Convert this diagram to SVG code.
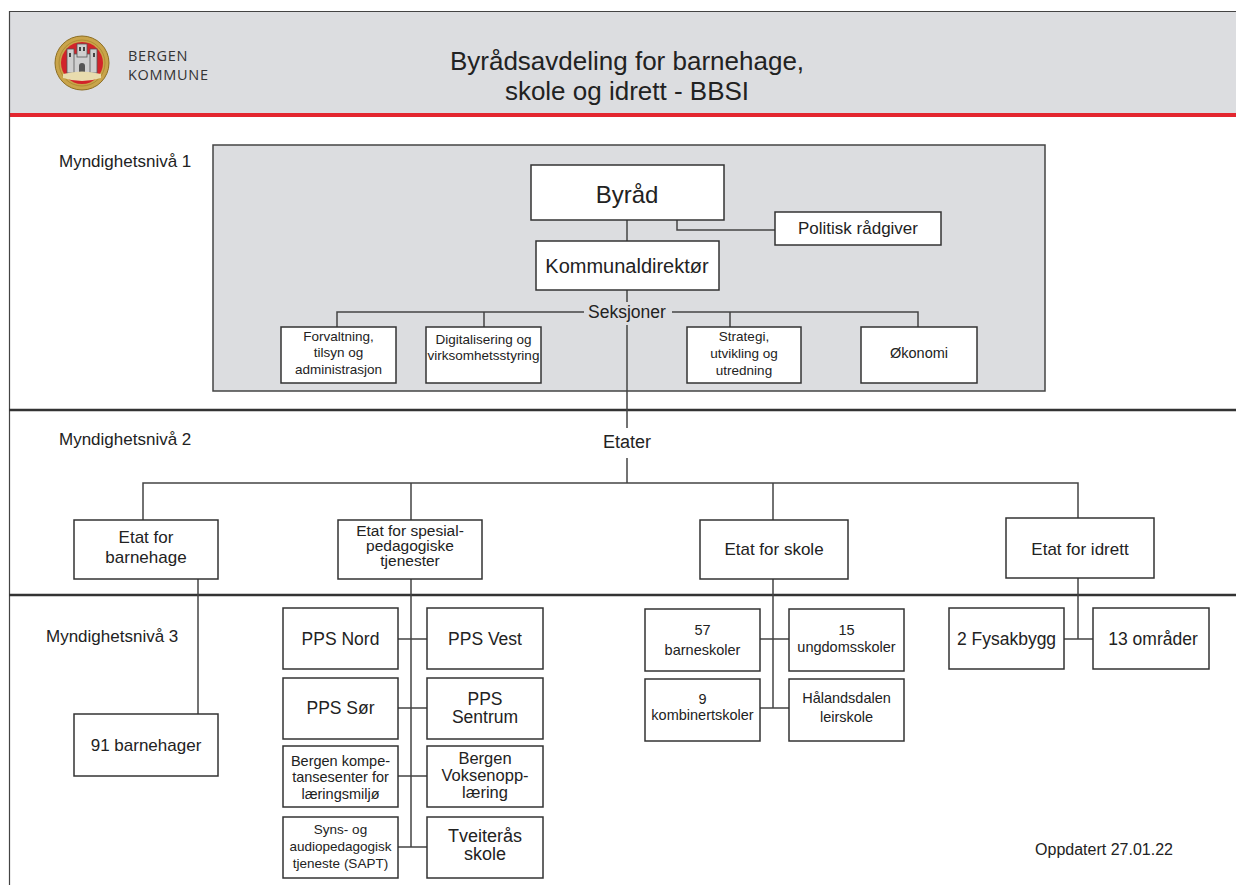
<svg xmlns="http://www.w3.org/2000/svg" width="1236" height="895" viewBox="0 0 1236 895">
<style>
text{font-family:"Liberation Sans",Arial,sans-serif;fill:#222;text-anchor:middle}
.box{fill:#fff;stroke:#333;stroke-width:1.5}
.ln{stroke:#444;stroke-width:1.5;fill:none}
.lvl{text-anchor:start;font-size:17px}
.div{stroke:#333;stroke-width:2.5}
.bk{text-anchor:start;font-family:"Open Sans","DejaVu Sans",sans-serif;font-size:14.5px;letter-spacing:0.7px;fill:#333}
</style>
<rect width="1236" height="895" fill="#fff"/>
<g id="header">
<rect x="9" y="11" width="1227" height="103" fill="#dcdde0"/>
<line x1="9" y1="11.5" x2="1236" y2="11.5" stroke="#444" stroke-width="1.2"/>
<rect x="9" y="113" width="1227" height="4" fill="#e3262f"/>
<g id="logo">
<circle cx="82" cy="63" r="27" fill="#c9a44a" stroke="#8c6d22" stroke-width="1"/>
<circle cx="82" cy="63" r="23" fill="none" stroke="#a8862f" stroke-width="0.8"/>
<circle cx="82" cy="63" r="21" fill="#d2232a"/>
<rect x="71" y="54" width="22" height="19" fill="#cfcfcf" stroke="#555" stroke-width="0.8"/>
<rect x="67" y="49" width="7" height="24" fill="#cfcfcf" stroke="#555" stroke-width="0.8"/>
<rect x="90" y="49" width="7" height="24" fill="#cfcfcf" stroke="#555" stroke-width="0.8"/>
<rect x="77" y="44" width="10" height="13" fill="#cfcfcf" stroke="#555" stroke-width="0.8"/>
<rect x="79" y="47" width="2" height="4" fill="#444"/>
<rect x="83" y="47" width="2" height="4" fill="#444"/>
<rect x="69" y="53" width="2" height="4" fill="#444"/>
<rect x="93" y="53" width="2" height="4" fill="#444"/>
<path d="M79 73 v-7 a3 3 0 0 1 6 0 v7z" fill="#555"/>
<path d="M63 74 q19 -5 38 0 v4 q-19 6 -38 0z" fill="#e8dcae"/>
</g>
<text class="bk" x="128" y="61">BERGEN</text>
<text class="bk" x="128" y="80">KOMMUNE</text>
<text x="627" y="70" font-size="26">Byrådsavdeling for barnehage,</text>
<text x="627" y="100" font-size="26">skole og idrett - BBSI</text>
</g>
<line x1="9.5" y1="11" x2="9.5" y2="885" stroke="#444" stroke-width="1.2"/>
<rect x="213" y="145" width="832" height="246" fill="#dcdde0" stroke="#444" stroke-width="1.5"/>
<line class="div" x1="9" y1="410" x2="1236" y2="410"/>
<line class="div" x1="9" y1="595" x2="1236" y2="595"/>
<g id="levels">
<text class="lvl" x="59" y="167">Myndighetsnivå 1</text>
<text class="lvl" x="59" y="445">Myndighetsnivå 2</text>
<text class="lvl" x="46" y="642">Myndighetsnivå 3</text>
<text x="1104" y="855" font-size="16">Oppdatert 27.01.22</text>
</g>
<g id="connectors" class="ln">
<path d="M627 220V241"/>
<path d="M677 220V230H775"/>
<path d="M627 290V302"/>
<path d="M584 312H337V327M484 312V327"/>
<path d="M672 312H918V327M730 312V327"/>
<path d="M627 325V428"/>
<path d="M627 458V483"/>
<path d="M143 520V483H1078V518M411 483V520M773 483V520"/>
<path d="M198 579V714"/>
<path d="M411 579V847M398 639H427M398 708H427M398 776H427M398 847H427"/>
<path d="M773 579V708M760 639H789M760 708H789"/>
<path d="M1078 578V639M1064 639H1093"/>
</g>
<g id="byraad"><rect class="box" x="531" y="165" width="193" height="55"/><text x="627" y="203" font-size="24">Byråd</text></g>
<g id="politisk"><rect class="box" x="775" y="212" width="166" height="33"/><text x="858" y="234" font-size="17">Politisk rådgiver</text></g>
<g id="kommunaldirektor"><rect class="box" x="536" y="241" width="183" height="49"/><text x="627" y="273" font-size="20">Kommunaldirektør</text></g>
<g id="seksjoner"><text x="627" y="318" font-size="17.5">Seksjoner</text></g>
<g id="forvaltning"><rect class="box" x="281" y="327" width="115" height="56"/><text font-size="13.5"><tspan x="338.5" y="341">Forvaltning,</tspan><tspan x="338.5" y="357">tilsyn og</tspan><tspan x="338.5" y="374">administrasjon</tspan></text></g>
<g id="digitalisering"><rect class="box" x="426" y="327" width="115" height="56"/><text font-size="13.5"><tspan x="483.5" y="344">Digitalisering og</tspan><tspan x="483.5" y="360">virksomhetsstyring</tspan></text></g>
<g id="strategi"><rect class="box" x="687" y="327" width="114" height="56"/><text font-size="13.5"><tspan x="744" y="341">Strategi,</tspan><tspan x="744" y="358">utvikling og</tspan><tspan x="744" y="375">utredning</tspan></text></g>
<g id="okonomi"><rect class="box" x="861" y="327" width="116" height="56"/><text x="919" y="358" font-size="14.5">Økonomi</text></g>
<g id="etater"><text x="627" y="448" font-size="18">Etater</text></g>
<g id="etat-barnehage"><rect class="box" x="74" y="520" width="144" height="59"/><text font-size="17"><tspan x="146" y="543">Etat for</tspan><tspan x="146" y="563">barnehage</tspan></text></g>
<g id="etat-spesial"><rect class="box" x="338" y="520" width="144" height="59"/><text font-size="15.5"><tspan x="410" y="536">Etat for spesial-</tspan><tspan x="410" y="551">pedagogiske</tspan><tspan x="410" y="566">tjenester</tspan></text></g>
<g id="etat-skole"><rect class="box" x="700" y="520" width="148" height="59"/><text x="774" y="555" font-size="17">Etat for skole</text></g>
<g id="etat-idrett"><rect class="box" x="1006" y="518" width="148" height="60"/><text x="1080" y="555" font-size="17">Etat for idrett</text></g>
<g id="barnehager"><rect class="box" x="74" y="714" width="144" height="62"/><text x="146" y="751" font-size="17">91 barnehager</text></g>
<g id="pps-nord"><rect class="box" x="283" y="608" width="115" height="61"/><text x="340.5" y="645" font-size="17.5">PPS Nord</text></g>
<g id="pps-vest"><rect class="box" x="427" y="608" width="116" height="61"/><text x="485" y="645" font-size="17.5">PPS Vest</text></g>
<g id="pps-sor"><rect class="box" x="283" y="678" width="115" height="61"/><text x="340.5" y="714" font-size="17.5">PPS Sør</text></g>
<g id="pps-sentrum"><rect class="box" x="427" y="678" width="116" height="61"/><text font-size="17.5"><tspan x="485" y="705">PPS</tspan><tspan x="485" y="723">Sentrum</tspan></text></g>
<g id="kompetansesenter"><rect class="box" x="283" y="746" width="115" height="61"/><text font-size="14.5"><tspan x="340.5" y="766">Bergen kompe-</tspan><tspan x="340.5" y="782">tansesenter for</tspan><tspan x="340.5" y="799">læringsmiljø</tspan></text></g>
<g id="voksenopplaering"><rect class="box" x="427" y="746" width="116" height="61"/><text font-size="16.5"><tspan x="485" y="764">Bergen</tspan><tspan x="485" y="781">Voksenopp-</tspan><tspan x="485" y="798">læring</tspan></text></g>
<g id="sapt"><rect class="box" x="283" y="817" width="115" height="61"/><text font-size="13.5"><tspan x="340.5" y="834">Syns- og</tspan><tspan x="340.5" y="851">audiopedagogisk</tspan><tspan x="340.5" y="868">tjeneste (SAPT)</tspan></text></g>
<g id="tveiteraas"><rect class="box" x="427" y="817" width="116" height="61"/><text font-size="18"><tspan x="485" y="842">Tveiterås</tspan><tspan x="485" y="860">skole</tspan></text></g>
<g id="barneskoler"><rect class="box" x="645" y="609" width="115" height="62"/><text font-size="14.5"><tspan x="702.5" y="635">57</tspan><tspan x="702.5" y="655">barneskoler</tspan></text></g>
<g id="ungdomsskoler"><rect class="box" x="789" y="609" width="115" height="62"/><text font-size="14.5"><tspan x="846.5" y="635">15</tspan><tspan x="846.5" y="652">ungdomsskoler</tspan></text></g>
<g id="kombinertskoler"><rect class="box" x="645" y="679" width="115" height="62"/><text font-size="14.5"><tspan x="702.5" y="704">9</tspan><tspan x="702.5" y="720">kombinertskoler</tspan></text></g>
<g id="haalandsdalen"><rect class="box" x="789" y="679" width="115" height="62"/><text font-size="14.5"><tspan x="846.5" y="703">Hålandsdalen</tspan><tspan x="846.5" y="722">leirskole</tspan></text></g>
<g id="fysakbygg"><rect class="box" x="949" y="608" width="115" height="61"/><text x="1006.5" y="645" font-size="17.5">2 Fysakbygg</text></g>
<g id="omraader"><rect class="box" x="1093" y="608" width="116" height="61"/><text x="1153" y="645" font-size="17.5">13 områder</text></g>
</svg>
